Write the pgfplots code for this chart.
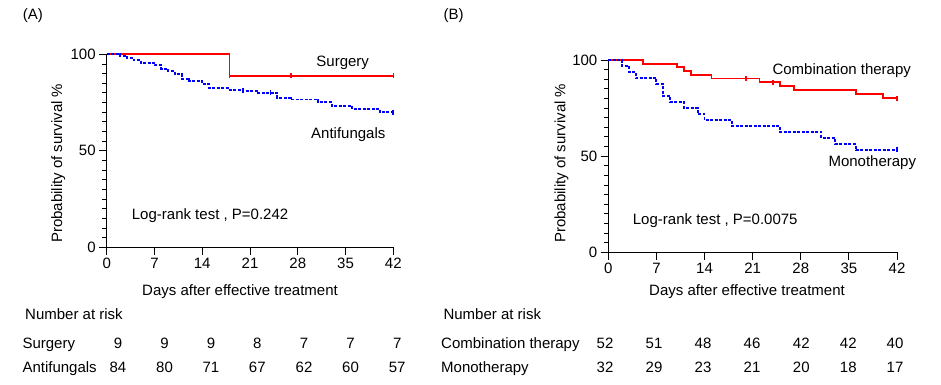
\documentclass[border=0pt]{standalone}
\usepackage{fontspec}
\setmainfont{Liberation Sans}
\usepackage{pgfplots}
\pgfplotsset{compat=1.18}
\newcommand\f{\fontsize{15bp}{18bp}\selectfont}
\pgfplotsset{
  km/.style={
    scale only axis, xmin=0, xmax=42, ymin=0, ymax=100,
    axis lines=left, axis line style={-, line width=0.9bp, black},
    xtick={0,7,...,42}, ytick={0,50,100}, minor ytick={5,10,...,95},
    tick align=outside, major tick length=7.5bp, minor tick length=4.5bp,
    tick style={black, line width=0.9bp},
    tick label style={font=\f},
    /pgf/number format/assume math mode=true,
    clip=false, anchor=south west,
  },
  rs/.style={red, line width=1.8bp, const plot},
  bs/.style={blue, line width=1.9bp, dash pattern=on 3bp off 1.5bp, const plot},
  rc/.style={red, only marks, mark=|, mark size=2.5bp, mark options={solid, line width=1.6bp}},
  bc/.style={blue, only marks, mark=|, mark size=2.5bp, mark options={solid, line width=1.8bp}},
}
\begin{document}
\begin{tikzpicture}
\path[use as bounding box] (0,0) rectangle (941bp,-385bp);
% Panel A
\begin{axis}[km, at={(106.7bp,-247.3bp)}, width=286.6bp, height=193bp]
\addplot[rs] coordinates {(0,100) (18,88.9) (42,88.9)};
\addplot[rc] coordinates {(18,88.9) (27,88.9) (42,88.9)};
\addplot[bs] coordinates {(0,100) (2,99.0) (3,98.0) (4,97.0) (5,95.7) (7,94.3) (8,92.4) (9,91.3) (10,89.6) (11,87.4) (12,86.1) (14,84.4) (15,82.4) (18,81.6) (20,81.2) (22,80.0) (25,77.4) (27,76.6) (31,75.2) (33,73.4) (36,71.8) (40,70.0) (42,70.0)};
\addplot[bc] coordinates {(20,81.2) (24,80.0) (42,70.0)};
\end{axis}
% Panel B
\begin{axis}[km, at={(608.3bp,-252.3bp)}, width=288.7bp, height=192.3bp]
\addplot[rs] coordinates {(0,100) (5,98.1) (10,96.2) (11,94.2) (12,92.3) (15,90.4) (22,88.4) (25,86.4) (27,84.5) (36,82.4) (40,80.3) (42,80.3)};
\addplot[rc] coordinates {(20,90.4) (24,88.4) (42,79.8)};
\addplot[bs] coordinates {(0,100) (2,96.9) (3,93.75) (4,90.6) (7,87.5) (8,81.25) (9,78.1) (11,75.0) (13,71.9) (14,68.75) (18,65.6) (25,62.5) (31,59.4) (33,56.25) (36,53.1) (42,53.1)};
\addplot[bc] coordinates {(42,53.6)};
\end{axis}
% texts
\tikzset{every node/.style={font=\f, inner sep=0pt}}
\node[anchor=base west] at (22.7bp,-19bp) {(A)};
\node[anchor=base west] at (443.3bp,-19bp) {(B)};
\node[anchor=base] at (342.7bp,-66bp) {Surgery};
\node[anchor=base] at (348.3bp,-138.5bp) {Antifungals};
\node[anchor=base west] at (131.7bp,-219bp) {Log-rank test , P=0.242};
\node[anchor=base west] at (772.3bp,-74.5bp) {Combination therapy};
\node[anchor=base west] at (828.3bp,-166.5bp) {Monotherapy};
\node[anchor=base west] at (632.7bp,-224bp) {Log-rank test , P=0.0075};
\node[anchor=base] at (240bp,-295.3bp) {Days after effective treatment};
\node[anchor=base] at (747bp,-295.3bp) {Days after effective treatment};
\node[rotate=90, anchor=base] at (62bp,-163.3bp) {Probability of survival \%};
\node[rotate=90, anchor=base] at (565.3bp,-163.3bp) {Probability of survival \%};
\node[anchor=base west] at (25bp,-319.3bp) {Number at risk};
\node[anchor=base west] at (443.3bp,-319.3bp) {Number at risk};
\node[anchor=base west] at (22.3bp,-348bp) {Surgery};
\node[anchor=base west] at (22.3bp,-372.5bp) {Antifungals};
\node[anchor=base west] at (441bp,-348.5bp) {Combination therapy};
\node[anchor=base west] at (441bp,-372.3bp) {Monotherapy};
\foreach \x/\a/\b in {118/9/84, 164.5/9/80, 211/9/71, 257.3/8/67, 304/7/62, 350.5/7/60, 397.2/7/57}{
  \node[anchor=base] at (\x bp,-348bp) {\a};
  \node[anchor=base] at (\x bp,-372.5bp) {\b};
}
\foreach \x/\a/\b in {605/52/32, 654/51/29, 703/48/23, 752/46/21, 801.3/42/20, 848.3/42/18, 895/40/17}{
  \node[anchor=base] at (\x bp,-348.5bp) {\a};
  \node[anchor=base] at (\x bp,-372.3bp) {\b};
}
\end{tikzpicture}
\end{document}
